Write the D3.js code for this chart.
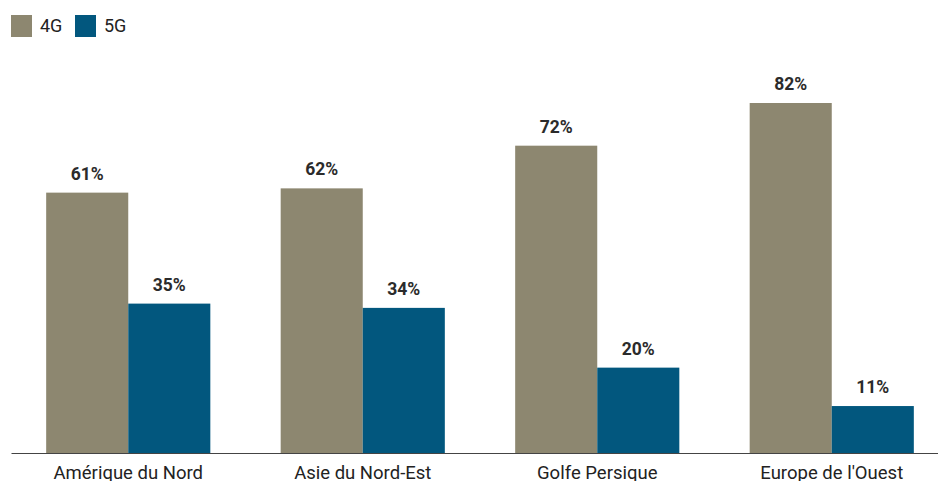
<!DOCTYPE html>
<html>
<head>
<meta charset="utf-8">
<script src="https://cdn.jsdelivr.net/npm/d3@7"></script>
<style>
  body { margin: 0; background: #fff; }
  svg { display: block; font-family: Roboto, sans-serif; }
</style>
</head>
<body>
<div id="chart"></div>
<script>
// Données
const regions = ["Amérique du Nord", "Asie du Nord-Est", "Golfe Persique", "Europe de l'Ouest"];
const series = ["4G", "5G"];
const values4G = [61, 62, 72, 82];
const values5G = [35, 34, 20, 11];
const colors = ["#8d8770", "#02577e"];

const width = 938, height = 481;
const baseline = 453;

const svg = d3.select("#chart")
    .append("svg")
    .attr("width", width)
    .attr("height", height);

const rows = regions.map((r, i) => ({ region: r, vals: [values4G[i], values5G[i]] }));

// Escalas
const x = d3.scaleBand()
    .domain(regions)
    .range([11, 949])
    .paddingInner(0.3)
    .paddingOuter(0.15);

const xSub = d3.scaleBand()
    .domain(series)
    .range([0, x.bandwidth()]);

const y = d3.scaleLinear()
    .domain([0, 82])
    .range([baseline, 103]);

// Barras
const groups = svg.selectAll(".group")
    .data(rows)
    .enter()
    .append("g")
    .attr("class", "group")
    .attr("transform", d => `translate(${x(d.region)},0)`);

groups.selectAll("rect")
    .data(d => d.vals.map((v, i) => ({ key: series[i], value: v, idx: i })))
    .enter()
    .append("rect")
    .attr("x", d => xSub(d.key))
    .attr("y", d => y(d.value))
    .attr("width", xSub.bandwidth())
    .attr("height", d => baseline - y(d.value))
    .attr("fill", d => colors[d.idx]);

// Etiquetas de valor
groups.selectAll("text")
    .data(d => d.vals.map((v, i) => ({ key: series[i], value: v })))
    .enter()
    .append("text")
    .attr("x", d => xSub(d.key) + xSub.bandwidth() / 2)
    .attr("y", d => y(d.value) - 13)
    .attr("text-anchor", "middle")
    .style("font-size", "17.5px")
    .style("font-weight", "bold")
    .attr("fill", "#2b2b2b")
    .text(d => d.value + "%");

// Eje X
const axis = svg.append("g")
    .attr("transform", `translate(0,${baseline})`)
    .call(d3.axisBottom(x).tickSize(0).tickPadding(13));
axis.select(".domain").attr("stroke", "#444").attr("stroke-width", 1.2);
axis.selectAll("text")
    .style("font-family", "Roboto, sans-serif")
    .style("font-size", "18.5px")
    .attr("fill", "#222");

// Leyenda
const legend = svg.append("g").attr("transform", "translate(11,15)");
const legendX = [0, 64];
series.forEach((s, i) => {
    legend.append("rect")
        .attr("x", legendX[i])
        .attr("y", 0)
        .attr("width", 21)
        .attr("height", 22)
        .attr("fill", colors[i]);
    legend.append("text")
        .attr("x", legendX[i] + 29)
        .attr("y", 11)
        .attr("dy", "0.35em")
        .style("font-size", "18px")
        .attr("fill", "#222")
        .text(s);
});
</script>
</body>
</html>
